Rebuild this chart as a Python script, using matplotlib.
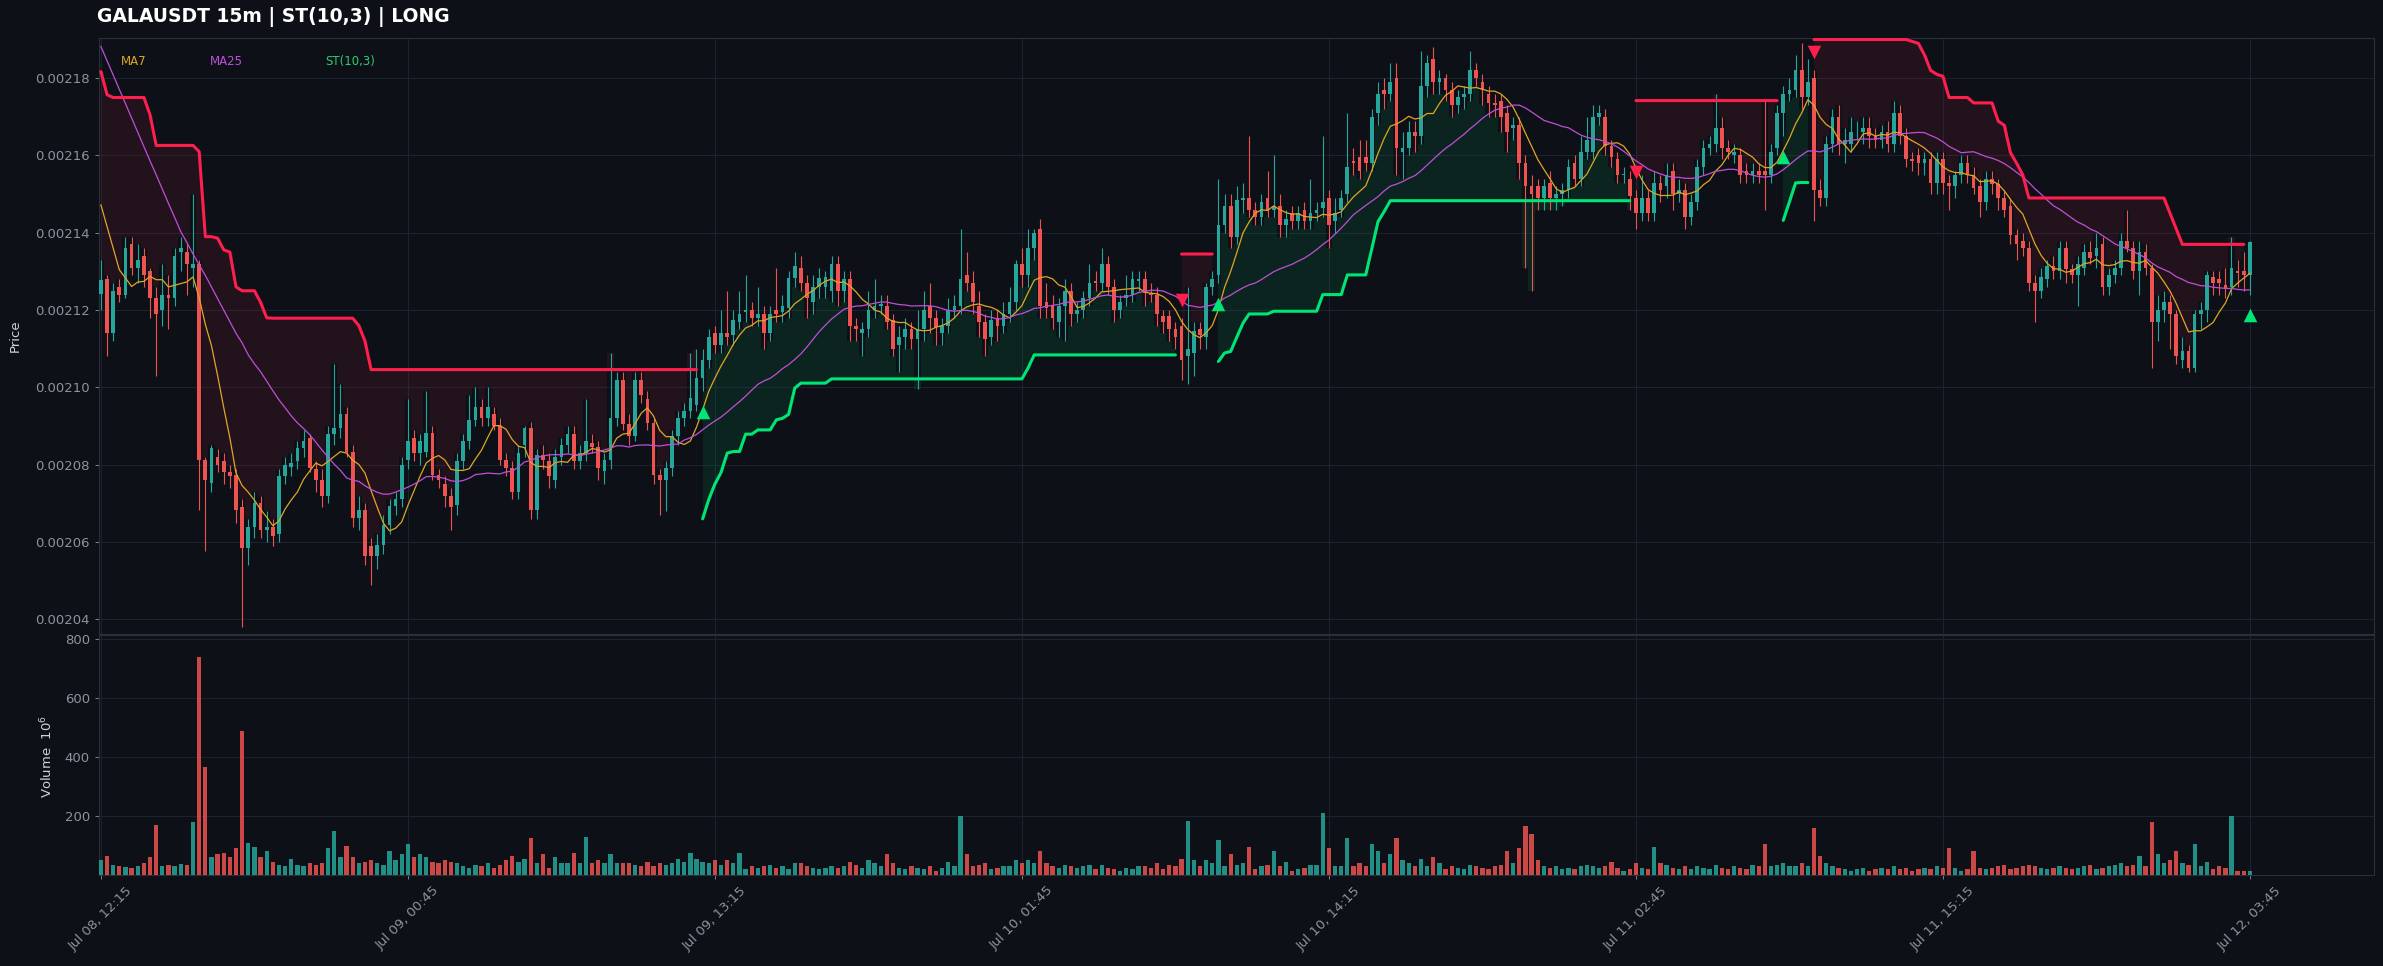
import numpy as np
import pandas as pd
import matplotlib
matplotlib.use("Agg")
import matplotlib.pyplot as plt
from matplotlib.ticker import FormatStrFormatter

# ---------------- data (prices in units of 1e-5 USDT) ----------------
SCALE = 1e-5

opens = [
212.41,212.80,211.40,212.60,212.40,213.70,213.10,213.40,213.00,212.30,
212.00,212.40,212.30,213.50,213.50,213.10,213.20,208.13,207.53,208.21,
208.10,207.80,207.74,206.90,205.84,206.40,207.00,206.30,206.40,206.20,
207.70,207.95,208.10,208.43,208.70,207.90,207.60,207.20,208.80,208.95,
209.30,208.34,206.62,206.84,205.90,205.63,205.93,206.45,206.92,207.10,
208.13,208.70,208.30,208.34,208.82,207.74,207.50,207.20,206.95,208.10,
208.60,209.15,209.50,209.20,209.30,209.00,208.13,207.91,207.30,208.50,
208.95,206.84,208.26,208.10,207.60,208.20,208.50,208.80,208.10,208.30,
208.55,208.45,207.83,208.13,209.20,210.20,209.05,208.75,210.20,209.70,
209.08,207.74,207.60,207.91,208.73,209.20,209.40,209.55,210.24,210.70,
211.40,211.10,211.40,211.35,211.70,211.95,212.00,211.80,211.90,211.40,
212.00,211.95,212.05,212.83,213.10,212.70,212.20,212.60,212.60,212.50,
213.20,212.50,212.80,211.60,211.40,211.50,212.00,212.10,212.10,211.75,
211.10,211.30,211.50,211.25,211.50,212.10,211.80,211.40,211.60,212.00,
212.10,212.90,212.70,212.10,211.70,211.30,211.80,211.60,211.90,212.20,
213.20,212.90,213.60,214.10,212.20,212.10,211.70,212.10,212.50,211.90,
212.00,212.30,212.75,212.70,213.20,212.60,212.00,212.30,212.40,212.75,
212.80,212.45,212.40,211.85,211.85,211.50,211.60,210.80,210.90,211.50,
211.30,212.60,212.90,214.20,214.70,213.90,214.85,214.90,214.60,214.40,
214.90,214.60,214.70,214.20,214.50,214.30,214.60,214.30,214.50,214.65,
214.90,214.30,214.60,215.00,215.85,215.95,215.95,215.80,217.10,217.70,
217.60,218.00,216.10,216.20,216.60,216.50,217.80,218.50,217.90,218.00,
217.70,217.30,217.50,217.60,218.20,217.90,217.60,217.35,217.40,217.10,
216.70,216.80,215.80,215.20,215.20,214.90,215.30,214.90,215.00,215.10,
215.80,215.40,216.10,216.10,217.00,217.00,216.25,215.90,215.50,215.40,
214.90,214.50,214.90,214.50,215.30,215.20,215.60,215.00,215.10,214.40,
214.80,215.70,216.20,216.30,216.70,216.20,216.00,216.00,215.60,215.50,
215.60,215.60,215.50,216.20,217.10,217.60,217.70,218.20,217.50,218.00,
215.10,214.90,216.30,217.00,216.30,216.30,216.60,216.60,216.70,216.50,
216.40,216.60,216.30,217.10,216.50,215.90,216.00,215.80,215.90,215.30,
215.90,215.30,215.20,215.50,215.80,215.50,215.20,214.80,215.40,215.25,
214.90,214.70,213.95,213.80,213.60,212.70,212.50,212.80,213.15,213.00,
213.60,213.05,212.90,213.10,213.50,213.40,213.70,212.60,212.90,213.10,
213.80,213.60,213.00,213.50,213.10,211.70,212.00,212.20,211.90,210.70,
210.95,210.50,211.90,212.00,212.85,212.80,212.65,212.60,213.00,213.00,212.90]

highs = [
213.30,212.90,212.70,212.80,213.90,213.90,213.70,213.60,213.10,212.60,
213.20,212.90,213.60,213.90,213.70,215.00,213.30,208.20,208.50,208.40,
208.30,208.00,207.90,207.10,206.60,207.30,207.20,206.80,206.60,207.90,
208.20,208.30,208.60,208.90,208.80,208.10,207.90,209.00,210.60,210.10,
209.50,208.50,207.20,207.00,206.10,206.20,206.70,207.10,207.30,208.20,
209.70,208.90,208.80,209.90,209.00,207.90,207.70,207.40,208.30,208.80,
209.80,210.00,209.70,210.00,209.50,209.20,208.30,208.10,208.50,209.00,
209.10,208.40,208.50,208.30,208.40,208.70,209.00,209.00,208.50,209.70,
208.80,208.60,208.30,210.90,210.40,210.40,209.30,210.40,210.40,209.90,
209.20,207.90,208.10,208.90,209.40,209.60,210.90,211.00,211.00,211.50,
211.60,212.00,212.50,212.00,212.50,212.90,212.20,212.60,212.10,212.10,
213.10,212.40,213.00,213.50,213.40,212.90,212.90,213.10,213.00,213.40,
213.40,213.00,213.00,211.80,211.70,212.50,212.80,212.40,212.40,211.90,
211.60,211.80,211.70,212.00,212.50,212.70,212.00,211.80,212.30,212.40,
214.10,213.50,213.00,212.50,211.90,212.00,212.00,212.20,212.60,213.30,
213.60,214.10,214.10,214.35,212.70,212.40,212.30,212.80,212.70,212.20,
212.50,213.20,213.00,213.60,213.40,212.80,212.40,212.90,213.00,213.00,
213.00,212.70,212.60,212.00,212.00,211.70,211.80,212.60,211.70,211.70,
212.70,213.00,215.40,215.00,215.00,215.20,215.30,216.50,214.80,215.00,
215.60,216.00,215.00,214.60,214.70,214.70,214.80,215.40,214.80,216.50,
215.10,214.90,215.10,217.10,216.20,216.40,216.40,217.20,217.90,218.00,
218.40,218.40,216.60,216.90,216.90,218.70,218.60,218.80,218.20,218.10,
217.90,217.70,217.80,218.70,218.40,218.10,217.80,217.60,217.60,217.30,
217.00,217.00,216.00,215.50,215.40,215.40,215.60,215.20,215.30,215.90,
216.00,216.50,217.00,217.30,217.30,217.20,216.40,216.10,215.70,215.60,
215.10,215.50,215.10,215.60,215.50,215.80,215.80,215.40,215.30,215.00,
215.90,216.40,216.50,217.60,217.00,216.40,216.30,216.20,215.80,215.80,
215.80,217.40,216.30,217.30,217.80,218.00,218.60,218.90,218.50,218.20,
215.40,216.50,217.20,217.30,216.70,217.00,216.90,217.00,217.00,216.70,
216.80,216.90,217.40,217.30,216.70,216.10,216.20,216.10,216.10,216.10,
216.10,215.50,215.60,216.00,216.00,215.70,215.40,215.60,215.60,215.40,
215.10,214.90,214.10,214.00,213.80,212.90,213.10,213.30,213.40,213.80,
213.80,213.20,213.40,213.70,213.80,214.00,213.90,213.10,213.30,214.00,
214.60,213.80,213.80,213.70,213.20,212.40,212.50,212.40,212.00,211.30,
211.10,212.00,212.20,213.00,213.00,213.00,213.10,213.90,213.30,213.50,213.80]

lows = [
212.00,210.80,211.20,212.20,212.30,212.90,212.70,212.60,211.80,210.30,
211.60,211.50,212.10,213.00,212.40,212.60,206.84,205.76,207.30,207.80,
207.50,207.40,206.50,203.80,205.40,206.10,206.10,206.00,205.90,206.00,
207.50,207.70,207.90,208.20,207.80,207.30,206.90,207.00,208.50,208.70,
208.20,206.40,206.30,205.40,204.90,205.30,205.70,206.20,206.70,206.90,
207.90,208.10,208.00,208.20,207.60,207.40,206.90,206.30,206.70,207.90,
208.40,209.00,209.00,209.00,208.90,208.00,207.70,207.10,207.10,208.20,
206.60,206.60,207.90,207.40,207.40,208.00,208.30,207.90,207.90,208.10,
208.30,207.60,207.50,207.90,209.00,208.90,208.50,208.60,209.60,208.90,
207.50,206.70,206.80,207.70,208.50,209.00,209.20,209.40,209.90,210.50,
210.90,210.90,211.10,211.10,211.50,211.70,211.60,211.60,211.00,211.20,
211.70,211.70,211.80,212.60,212.50,211.80,211.90,212.30,212.30,212.20,
212.10,212.20,211.20,211.20,210.80,211.30,211.80,211.90,211.50,210.80,
210.40,211.00,211.00,209.95,211.20,211.40,211.10,211.10,211.40,211.80,
211.90,212.50,211.90,211.30,210.80,211.10,211.20,211.40,211.70,212.00,
212.60,212.60,213.30,211.80,211.80,211.50,211.30,211.20,211.60,211.70,
211.80,212.10,212.50,212.50,212.40,211.70,211.80,212.10,212.20,212.50,
212.10,212.20,211.60,211.40,211.20,211.00,210.20,210.10,210.30,211.00,
211.00,212.40,212.70,214.00,213.60,213.70,214.50,214.40,214.20,214.20,
214.40,214.40,213.90,213.90,214.10,214.10,214.10,214.10,214.30,214.40,
213.60,214.00,214.40,214.80,215.50,215.40,215.60,215.60,216.80,217.20,
217.40,215.50,215.40,216.00,216.10,216.30,217.50,217.60,217.60,217.40,
217.00,217.10,217.20,217.40,217.80,217.30,217.00,217.00,216.60,216.10,
216.40,215.40,213.10,212.50,214.60,214.60,214.60,214.60,214.70,214.90,
215.20,215.20,215.90,215.90,216.80,216.00,215.70,215.30,215.30,214.60,
214.10,214.30,214.30,214.30,214.80,214.90,214.60,214.80,214.10,214.20,
214.60,215.50,216.00,216.10,215.90,215.90,215.80,215.30,215.30,215.30,
215.30,214.60,215.30,216.00,216.50,217.40,217.50,217.20,217.30,214.30,
214.70,214.70,216.10,216.00,215.80,216.10,216.40,216.30,216.20,216.20,
216.20,216.10,216.10,216.30,215.70,215.60,215.50,215.50,215.00,215.00,
215.00,214.60,214.90,215.30,215.30,215.00,214.40,214.60,215.00,214.60,
214.40,213.70,213.30,213.40,212.50,211.70,212.30,212.60,212.80,212.80,
212.70,212.70,212.10,212.90,213.20,213.10,212.40,212.40,212.70,212.90,
213.50,212.80,212.40,212.90,210.50,211.20,211.70,211.00,210.60,210.50,
210.40,210.40,211.50,211.70,212.40,212.40,212.30,212.40,212.60,212.50,212.40]

closes = [
212.78,211.40,212.50,212.40,213.60,213.10,213.30,212.90,212.30,211.90,
212.40,212.30,213.40,213.60,213.20,213.20,208.13,207.61,208.43,207.99,
207.80,207.70,206.84,205.84,206.40,207.00,206.32,206.40,206.15,207.70,
208.00,208.05,208.43,208.60,207.91,207.60,207.20,208.80,208.95,209.30,
208.34,206.62,206.84,205.63,205.63,205.93,206.45,206.92,207.10,208.00,
208.60,208.30,208.60,208.82,207.74,207.60,207.20,206.90,208.10,208.60,
209.15,209.50,209.20,209.50,209.00,208.13,207.91,207.30,208.30,208.95,
206.84,208.26,208.13,207.70,208.20,208.50,208.80,208.10,208.30,208.60,
208.45,207.91,208.13,209.20,210.20,209.05,208.75,210.20,209.80,209.08,
207.74,207.60,207.91,208.73,209.20,209.40,209.72,210.24,210.72,211.30,
211.10,211.40,211.30,211.75,211.90,212.00,211.80,211.90,211.40,211.90,
211.90,212.10,212.83,213.13,212.70,212.30,212.60,212.83,212.85,213.20,
212.50,212.80,211.60,211.50,211.50,212.00,212.10,212.15,211.70,211.00,
211.30,211.50,211.25,211.50,212.00,211.80,211.55,211.60,212.00,212.10,
212.80,212.70,212.20,211.70,211.25,211.75,211.60,211.90,212.20,213.20,
212.90,213.60,214.00,212.10,212.05,211.80,212.10,212.50,211.90,212.00,
212.30,212.70,212.70,213.20,212.60,212.00,212.20,212.40,212.80,212.80,
212.45,212.40,211.90,211.70,211.50,211.30,210.70,211.00,211.45,211.35,
212.60,212.80,214.20,214.70,213.90,214.85,214.90,214.60,214.40,214.80,
214.60,214.70,214.20,214.35,214.30,214.50,214.30,214.50,214.60,214.80,
214.20,214.50,214.90,215.70,215.80,215.60,215.80,217.00,217.60,217.60,
217.90,216.20,216.20,216.60,216.50,217.80,218.40,217.90,218.00,217.70,
217.30,217.50,217.60,218.20,218.00,217.70,217.35,217.30,217.00,216.60,
216.80,215.80,215.20,215.00,214.90,215.20,214.90,215.00,215.10,215.70,
215.40,216.10,216.40,217.00,217.10,216.25,215.95,215.50,215.50,214.95,
214.50,214.90,214.50,215.30,215.10,215.50,215.00,215.10,214.40,214.80,
215.70,216.20,216.30,216.70,216.20,216.10,216.10,215.50,215.50,215.60,
215.50,215.50,216.10,217.10,217.60,217.70,218.20,217.50,217.90,215.10,
214.90,216.30,217.00,216.30,216.40,216.60,216.60,216.70,216.50,216.40,
216.60,216.30,217.10,216.50,215.90,215.85,215.80,215.90,215.30,215.90,
215.30,215.20,215.50,215.80,215.50,215.15,214.80,215.40,215.25,214.90,
214.60,213.95,213.70,213.60,212.70,212.50,212.85,213.15,213.00,213.60,
213.05,212.90,213.20,213.50,213.35,213.60,212.60,212.90,213.10,213.80,
213.60,213.00,213.50,213.10,211.70,212.00,212.20,211.90,210.80,210.95,
210.50,211.90,212.00,212.90,212.70,212.70,212.55,213.10,212.95,212.90,213.75]

# volume in millions
volume = [
50,65,35,30,28,25,30,40,60,170,
30,35,30,38,35,180,740,365,60,70,
75,60,90,490,110,95,60,80,45,35,
30,55,35,30,40,35,40,90,150,60,
100,60,40,45,50,40,35,80,50,70,
105,60,70,60,45,40,50,45,40,30,
25,35,30,40,25,35,50,65,45,55,
125,40,70,25,60,40,40,75,40,130,
40,50,40,70,40,40,40,35,30,45,
30,40,35,40,55,45,75,55,45,40,
50,35,50,40,75,20,30,25,30,35,
25,30,20,40,40,30,25,20,25,30,
25,30,45,35,25,50,40,30,70,40,
25,20,30,25,20,30,15,25,45,30,
200,70,30,35,40,20,25,30,30,50,
40,50,40,80,40,30,25,35,30,25,
30,35,20,35,25,20,15,25,20,30,
30,25,40,20,35,30,55,185,50,30,
50,40,120,30,70,35,40,95,20,30,
35,80,30,45,15,20,25,35,35,210,
90,30,30,125,30,40,30,105,80,40,
70,125,50,40,30,55,30,60,40,20,
30,25,20,35,30,25,20,30,35,80,
40,90,165,140,50,30,25,30,20,25,
20,30,35,30,25,30,45,25,15,20,
40,25,20,95,40,35,25,20,30,20,
30,25,20,35,25,20,30,25,20,35,
30,105,30,35,40,30,30,40,30,160,
65,40,30,25,20,15,20,25,15,20,
25,20,30,20,25,15,20,25,20,30,
25,90,25,15,20,80,25,20,25,30,
35,20,25,30,35,30,25,20,25,30,
25,20,25,30,35,20,25,30,35,40,
30,35,65,30,180,70,40,50,80,40,
35,105,30,45,20,30,25,200,15,15,15]

# SuperTrend(10,3) line
supertrend = [
218.17,217.57,217.50,217.50,217.50,217.50,217.50,217.50,217.05,216.26,
216.26,216.26,216.26,216.26,216.26,216.26,216.10,213.90,213.90,213.86,
213.56,213.50,212.60,212.50,212.50,212.50,212.20,211.80,211.79,211.79,
211.79,211.79,211.79,211.79,211.79,211.79,211.79,211.79,211.79,211.79,
211.79,211.79,211.60,211.20,210.46,210.46,210.46,210.46,210.46,210.46,
210.46,210.46,210.46,210.46,210.46,210.46,210.46,210.46,210.46,210.46,
210.46,210.46,210.46,210.46,210.46,210.46,210.46,210.46,210.46,210.46,
210.46,210.46,210.46,210.46,210.46,210.46,210.46,210.46,210.46,210.46,
210.46,210.46,210.46,210.46,210.46,210.46,210.46,210.46,210.46,210.46,
210.46,210.46,210.46,210.46,210.46,210.46,210.46,210.46,206.60,207.10,
207.50,207.80,208.30,208.34,208.34,208.79,208.79,208.90,208.90,208.90,
209.16,209.20,209.30,209.98,210.11,210.11,210.11,210.11,210.11,210.22,
210.22,210.22,210.22,210.22,210.22,210.22,210.22,210.22,210.22,210.22,
210.22,210.22,210.22,210.22,210.22,210.22,210.22,210.22,210.22,210.22,
210.22,210.22,210.22,210.22,210.22,210.22,210.22,210.22,210.22,210.22,
210.22,210.50,210.84,210.84,210.84,210.84,210.84,210.84,210.84,210.84,
210.84,210.84,210.84,210.84,210.84,210.84,210.84,210.84,210.84,210.84,
210.84,210.84,210.84,210.84,210.84,210.84,213.45,213.45,213.45,213.45,
213.45,213.45,210.67,210.89,210.93,211.30,211.66,211.90,211.90,211.90,
211.90,211.97,211.97,211.97,211.97,211.97,211.97,211.97,211.97,212.40,
212.40,212.40,212.40,212.91,212.91,212.91,212.91,213.60,214.29,214.55,
214.83,214.83,214.83,214.83,214.83,214.83,214.83,214.83,214.83,214.83,
214.83,214.83,214.83,214.83,214.83,214.83,214.83,214.83,214.83,214.83,
214.83,214.83,214.83,214.83,214.83,214.83,214.83,214.83,214.83,214.83,
214.83,214.83,214.83,214.83,214.83,214.83,214.83,214.83,214.83,214.83,
217.42,217.42,217.42,217.42,217.42,217.42,217.42,217.42,217.42,217.42,
217.42,217.42,217.42,217.42,217.42,217.42,217.42,217.42,217.42,217.42,
217.42,217.42,217.42,217.42,214.32,214.80,215.29,215.30,215.30,219.00,
219.00,219.00,219.00,219.00,219.00,219.00,219.00,219.00,219.00,219.00,
219.00,219.00,219.00,219.00,219.00,218.95,218.90,218.60,218.20,218.10,
218.05,217.50,217.50,217.50,217.50,217.36,217.36,217.36,217.36,216.89,
216.78,216.07,215.80,215.50,214.90,214.90,214.90,214.90,214.90,214.90,
214.90,214.90,214.90,214.90,214.90,214.90,214.90,214.90,214.90,214.90,
214.90,214.90,214.90,214.90,214.90,214.90,214.90,214.50,214.10,213.70,
213.70,213.70,213.70,213.70,213.70,213.70,213.70,213.70,213.70,213.70,211.30]

# moving-average values visible before enough bars exist
ma7_head = [214.72, 214.16, 213.60, 213.04, 212.83, 212.61]
ma25_head = [218.82, 218.45, 218.08, 217.71, 217.34, 216.97, 216.60, 216.23,
             215.86, 215.50, 215.13, 214.76, 214.40, 214.03, 213.75, 213.45,
             213.17, 212.90, 212.60, 212.30, 212.00, 211.70, 211.40, 211.15]

tick_bars = [0, 50, 100, 150, 200, 250, 300, 350]
tick_labels = ["Jul 08, 12:15", "Jul 09, 00:45", "Jul 09, 13:15", "Jul 10, 01:45",
               "Jul 10, 14:15", "Jul 11, 02:45", "Jul 11, 15:15", "Jul 12, 03:45"]

# ---------------- styling ----------------
BG = "#0d1117"
UP = "#26a69a"
DOWN = "#ef5350"
ST_RED = "#ff1f4f"
ST_GREEN = "#00e676"
MA7_C = "#e0a526"
MA25_C = "#bf4fd8"
GRID = "#1d2330"
TXT = "#8b949e"
SPINE = "#2a2f3a"

o = np.array(opens) * SCALE
h = np.array(highs) * SCALE
l = np.array(lows) * SCALE
c = np.array(closes) * SCALE
st = np.array(supertrend) * SCALE
vol = np.array(volume, dtype=float)
n = len(c)
assert len(o) == n and len(h) == n and len(l) == n and len(vol) == n and len(st) == n, \
    (len(o), len(h), len(l), len(c), len(vol), len(st))
h = np.maximum(h, np.maximum(o, c))
l = np.minimum(l, np.minimum(o, c))
x = np.arange(n)

ma7 = pd.Series(c).rolling(7).mean().to_numpy()
ma7[:len(ma7_head)] = np.array(ma7_head) * SCALE
ma25 = pd.Series(c).rolling(25).mean().to_numpy()
ma25[:len(ma25_head)] = np.array(ma25_head) * SCALE

dirn = np.where(c > st, 1, -1)
bear = dirn == -1
bull = dirn == 1
flip = np.r_[False, dirn[1:] != dirn[:-1]]

up = c >= o
col = np.where(up, UP, DOWN)

fig = plt.figure(figsize=(23.83, 9.66), dpi=100, facecolor=BG)
ax = fig.add_axes([0.0415, 0.3437, 0.9547, 0.6170], facecolor=BG)
axv = fig.add_axes([0.0415, 0.0942, 0.9547, 0.2485], facecolor=BG, sharex=ax)

# supertrend fill
ax.fill_between(x, st, h, where=bear, step="mid", color=ST_RED, alpha=0.09, lw=0, zorder=1)
ax.fill_between(x, st, l, where=bull, step="mid", color=ST_GREEN, alpha=0.09, lw=0, zorder=1)

# candles
ax.vlines(x, l, h, colors=col, lw=0.8, zorder=3)
body = np.maximum(np.abs(c - o), 0.015 * SCALE)
ax.bar(x, body, bottom=np.minimum(o, c), width=0.6, color=col, lw=0, zorder=4)

# moving averages
ax.plot(x, ma7, color=MA7_C, lw=0.9, zorder=5)
ax.plot(x, ma25, color=MA25_C, lw=0.9, zorder=5)

# supertrend lines
ax.plot(x, np.where(bear, st, np.nan), color=ST_RED, lw=2.2, zorder=6, solid_capstyle="round")
ax.plot(x, np.where(bull, st, np.nan), color=ST_GREEN, lw=2.2, zorder=6, solid_capstyle="round")

# signals
buy = flip & bull
sell = flip & bear
ax.scatter(x[buy], l[buy] * 0.9975, marker="^", s=95, color=ST_GREEN, zorder=7, lw=0)
ax.scatter(x[sell], h[sell] * 1.0022, marker="v", s=95, color=ST_RED, zorder=7, lw=0)

ax.set_xlim(-0.33, 370.2)
ax.set_ylim(203.62 * SCALE, 219.04 * SCALE)
ax.set_yticks(np.arange(204, 219, 2) * SCALE)
ax.yaxis.set_major_formatter(FormatStrFormatter("%.5f"))

# volume
axv.bar(x, vol, width=0.7, color=col, alpha=0.85, lw=0, zorder=3)
axv.set_ylim(0, 815)
axv.set_yticks([200, 400, 600, 800])
axv.set_xticks(tick_bars)
axv.set_xticklabels(tick_labels, rotation=45, ha="center")

for a in (ax, axv):
    a.grid(True, color=GRID, lw=0.7, zorder=0)
    a.set_axisbelow(True)
    a.tick_params(colors=TXT, labelsize=9.5, length=3, width=0.6)
    for s in a.spines.values():
        s.set_color(SPINE)
        s.set_linewidth(0.8)
plt.setp(ax.get_xticklabels(), visible=False)
ax.tick_params(axis="x", length=0)

# legend-like labels
ax.text(0.0097, 0.961, "MA7", color=MA7_C, fontsize=8.5, transform=ax.transAxes, va="center")
ax.text(0.049, 0.961, "MA25", color=MA25_C, fontsize=8.5, transform=ax.transAxes, va="center")
ax.text(0.0993, 0.961, "ST(10,3)", color="#2ecc71", fontsize=8.5, transform=ax.transAxes, va="center")

fig.text(97 / 2383, 1 - 17 / 966, "GALAUSDT 15m | ST(10,3) | LONG", color="white",
         fontsize=13.5, fontweight="bold", ha="left", va="center")
fig.text(15 / 2383, 1 - 336 / 966, "Price", color="#d0d4da", fontsize=9.5,
         rotation=90, ha="center", va="center")
fig.text(47 / 2383, 1 - 757 / 966, "Volume  $10^6$", color="#d0d4da", fontsize=9.5,
         rotation=90, ha="center", va="center")

fig.savefig("out.png", dpi=100, facecolor=BG)
